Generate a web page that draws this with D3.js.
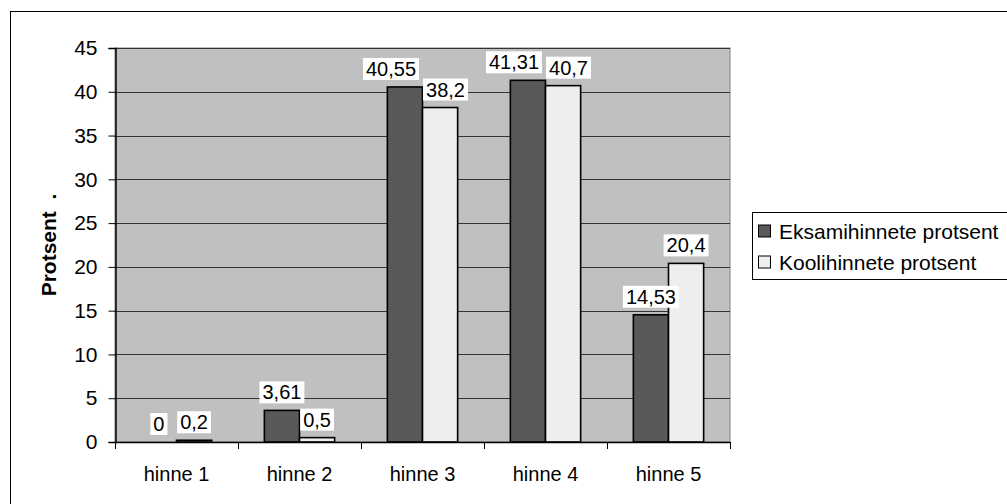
<!DOCTYPE html>
<html><head><meta charset="utf-8">
<script src="https://cdn.jsdelivr.net/npm/d3@7"></script>
<style>
html,body{margin:0;padding:0;background:#fff;}
svg{display:block;font-family:Arial,"Liberation Sans",sans-serif;}
</style></head>
<body>
<svg id="c" width="1007" height="504"></svg>
<script>
const categories = ["hinne 1","hinne 2","hinne 3","hinne 4","hinne 5"];
const seriesNames = ["Eksamihinnete protsent","Koolihinnete protsent"];
const eksam = [0, 3.61, 40.55, 41.31, 14.53];
const kool = [0.2, 0.5, 38.2, 40.7, 20.4];
const labelEksam = ["0","3,61","40,55","41,31","14,53"];
const labelKool = ["0,2","0,5","38,2","40,7","20,4"];
const yTicks = [0,5,10,15,20,25,30,35,40,45];
const seriesColors = ["#595959","#eeeeee"];

const svg = d3.select("#c");
const L = 115, R = 730, T = 48, B = 442;

// outer border
svg.append("rect").attr("x",10.5).attr("y",11.5).attr("width",1100).attr("height",600)
  .attr("fill","#fff").attr("stroke","#000").attr("stroke-width",1);

const x0 = d3.scaleBand().domain(categories).range([L,R]).padding(0);
const x1 = d3.scaleBand().domain(seriesNames).range([0,x0.bandwidth()]).paddingInner(0).paddingOuter(0.75);
const y = d3.scaleLinear().domain([0,45]).range([B,T]);

// plot bg
svg.append("rect").attr("x",L).attr("y",T).attr("width",R-L).attr("height",B-T)
  .attr("fill","#c0c0c0").attr("stroke","#808080").attr("stroke-width",1);

// gridlines
svg.append("g").selectAll("line").data(yTicks.filter(d=>d>0)).join("line")
  .attr("x1",L).attr("x2",R).attr("y1",d=>Math.round(y(d))+0.5).attr("y2",d=>Math.round(y(d))+0.5)
  .attr("stroke","#333").attr("stroke-width",1);

// y axis
const yAxis = svg.append("g").attr("transform",`translate(${L+0.5},0)`)
  .call(d3.axisLeft(y).tickValues(yTicks).tickSize(7).tickPadding(11).tickFormat(d=>String(d)));
yAxis.select(".domain").attr("stroke","#000").attr("stroke-width",1.5);
yAxis.selectAll(".tick line").attr("stroke","#000");
yAxis.selectAll(".tick text").attr("font-size",21).attr("fill","#000").attr("font-family","Arial,'Liberation Sans',sans-serif");

// bars
const data = categories.map((c,i)=>({cat:c, vals:[
  {s:seriesNames[0], v:eksam[i], lab:labelEksam[i], k:0},
  {s:seriesNames[1], v:kool[i], lab:labelKool[i], k:1}]}));

const g = svg.append("g");
data.forEach(d=>{
  d.vals.forEach(e=>{
    if (e.v>0) {
      g.append("rect").attr("x",x0(d.cat)+x1(e.s)).attr("y",y(e.v))
        .attr("width",x1.bandwidth()).attr("height",y(0)-y(e.v))
        .attr("fill",seriesColors[e.k]).attr("stroke","#000").attr("stroke-width",1.6);
    }
  });
});

// x axis
svg.append("line").attr("x1",L).attr("x2",R).attr("y1",B+0.5).attr("y2",B+0.5).attr("stroke","#000").attr("stroke-width",1.5);
const bounds = categories.map(c=>x0(c)).concat([x0(categories[categories.length-1])+x0.bandwidth()]);
svg.append("g").selectAll("line").data(bounds).join("line")
  .attr("x1",d=>Math.round(d)+0.5).attr("x2",d=>Math.round(d)+0.5).attr("y1",B).attr("y2",B+7)
  .attr("stroke","#000").attr("stroke-width",1);
svg.append("g").selectAll("text").data(categories).join("text")
  .attr("x",d=>x0(d)+x0.bandwidth()/2).attr("y",B+39).attr("text-anchor","middle")
  .attr("font-size",20).attr("fill","#000").text(d=>d);

// data labels with collision push
const fs = 20, padX = 3, boxH = 22, gap = 7;
const lg = svg.append("g");
data.forEach(d=>{
  const items = d.vals.map(e=>{
    const cx = x0(d.cat)+x1(e.s)+x1.bandwidth()/2;
    const t = lg.append("text").attr("font-size",fs).attr("fill","#000").attr("text-anchor","middle").text(e.lab);
    const w = t.node().getComputedTextLength()+2*padX;
    const bottom = y(e.v)-gap;
    return {t, cx, w, bottom, top:bottom-boxH};
  });
  const a = items[0], b = items[1];
  const vOverlap = a.bottom > b.top && b.bottom > a.top;
  const over = (a.cx + a.w/2) - (b.cx - b.w/2) + 4;
  if (vOverlap && over>0) { a.cx -= over*0.72; b.cx += over*0.28; }
  items.forEach(it=>{
    lg.insert("rect","text").attr("x",it.cx-it.w/2).attr("y",it.top).attr("width",it.w).attr("height",boxH).attr("fill","#fff");
    it.t.attr("x",it.cx).attr("y",it.bottom-4);
  });
});

// y title
svg.append("text").attr("transform",`translate(56,${(T+B)/2}) rotate(-90)`)
  .attr("text-anchor","middle").attr("font-size",21).attr("font-weight","bold").attr("fill","#000")
  .attr("xml:space","preserve").style("white-space","pre").text("Protsent  .");

// legend
const leg = svg.append("g");
leg.append("rect").attr("x",752.5).attr("y",212.5).attr("width",400).attr("height",67)
  .attr("fill","#fff").attr("stroke","#000").attr("stroke-width",1);
seriesNames.forEach((s,i)=>{
  const cy = 231 + i*31;
  leg.append("rect").attr("x",758.5).attr("y",cy-6).attr("width",12).attr("height",12)
    .attr("fill",seriesColors[i]).attr("stroke","#000").attr("stroke-width",1);
  leg.append("text").attr("x",779).attr("y",cy+7.5).attr("font-size",21).attr("fill","#000").text(s);
});
</script>
</body></html>
